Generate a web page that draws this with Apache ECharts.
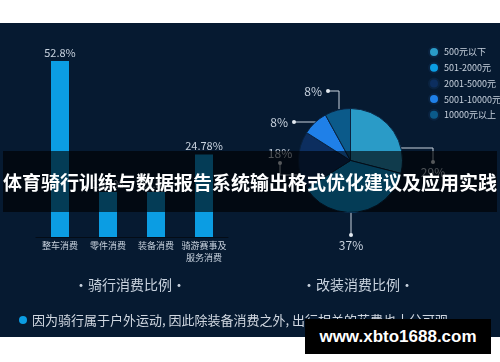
<!DOCTYPE html>
<html><head><meta charset="utf-8">
<script src="https://cdn.jsdelivr.net/npm/echarts@6/dist/echarts.min.js"></script>
<style>
html,body{margin:0;padding:0;background:#fff;width:500px;height:362px;overflow:hidden;}
#panel{position:absolute;left:0;top:23px;width:500px;height:314px;background:#061a31;}
#chart{position:absolute;left:0;top:0;width:500px;height:362px;}
#banner{position:absolute;left:3px;top:151px;width:494px;height:61px;background:rgba(0,0,0,0.62);}
#bannerText{position:absolute;left:0;top:151px;width:500px;height:61px;line-height:61px;text-align:center;color:#fff;font-weight:bold;font-size:19px;font-family:"Noto Sans CJK SC";white-space:nowrap;}
#wm{position:absolute;left:305px;top:319px;width:186px;height:35px;background:#000;color:#fff;font-weight:bold;font-size:17px;font-family:"Liberation Sans";text-align:center;line-height:35px;white-space:nowrap;}
</style></head>
<body>
<div id="panel"></div>
<div id="chart"></div>
<div id="banner"></div>
<div id="bannerText">体育骑行训练与数据报告系统输出格式优化建议及应用实践</div>
<div id="wm">www.xbto1688.com</div>
<script>
// ---- data ----
const barCategories = ['整车消费', '零件消费', '装备消费', '骑游赛事及服务消费'];
const barValues = [52.8, 13.5, 13.5, 24.78];
const pieNames = ['500元以下', '501-2000元', '2001-5000元', '5001-10000元', '10000元以上'];
const pieValues = [29, 37, 18, 8, 8];
const barTitle = '·骑行消费比例·';
const pieTitle = '·改装消费比例·';
const noteText = '因为骑行属于户外运动, 因此除装备消费之外, 出行相关的花费也十分可观。';

// ---- styling / layout ----
const textColor = '#c8d2de';
const pieColors = ['#2a9bc7', '#0b9de3', '#0c2e5f', '#1f80e8', '#0b5a8a'];
const cx = 350.5, cy = 160.5, R = 52;
// label routes relative to pie center
const routes = [
  {pts: [[46.5, -12.5], [82.5, -12.5], [82.5, 1.5]], x: 82.5, y: -0.5, align: 'center', va: 'top', kind: 'below'},
  {pts: [[0.5, 51.5], [0.5, 74.5]], x: 0.5, y: 72.5, align: 'center', va: 'top', kind: 'below'},
  {pts: [[-51.5, 14.5], [-70.5, 14.5], [-70.5, 2.5]], x: -70.5, y: 4.5, align: 'center', va: 'bottom', kind: 'above'},
  {pts: [[-27.5, -38.5], [-56.5, -38.5]], x: -54.5, y: -38.5, align: 'right', va: 'middle', kind: 'left'},
  {pts: [[-11.5, -51.5], [-11.5, -69.5], [-22.5, -69.5]], x: -20.5, y: -69.5, align: 'right', va: 'middle', kind: 'left'}
];

const chart = echarts.init(document.getElementById('chart'), null, {renderer: 'canvas'});
chart.setOption({
  backgroundColor: 'transparent',
  animation: false,
  textStyle: {fontFamily: '"Noto Sans CJK SC", "Noto Sans", sans-serif'},
  title: [
    {text: barTitle, left: 125, top: 273, textAlign: 'center',
     textStyle: {color: textColor, fontSize: 14, fontWeight: 'normal'}},
    {text: pieTitle, left: 353, top: 273, textAlign: 'center',
     textStyle: {color: textColor, fontSize: 14, fontWeight: 'normal'}},
    {text: '{dot|}{gap|}{t|' + noteText + '}', left: 14, top: 306,
     textStyle: {fontWeight: 'normal', rich: {
       dot: {width: 8, height: 8, borderRadius: 4, backgroundColor: '#0b9de3'},
       gap: {width: 5},
       t: {color: '#d0d7e0', fontSize: 13, fontWeight: 'normal'}
     }}}
  ],
  legend: {
    orient: 'vertical', left: 423, top: 41,
    data: pieNames, icon: 'circle', itemWidth: 10, itemHeight: 10, itemGap: 3.7,
    textStyle: {color: textColor, fontSize: 9, lineHeight: 10}
  },
  grid: {left: 36, right: 272, top: 37, bottom: 125},
  xAxis: {
    type: 'category', data: barCategories,
    axisLine: {lineStyle: {color: '#040c16', width: 1}},
    axisTick: {show: false},
    axisLabel: {color: textColor, fontSize: 9, lineHeight: 12, margin: 3, interval: 0,
      formatter: v => v.length > 5 ? v.slice(0, 5) + '\n' + v.slice(5) : v}
  },
  yAxis: {type: 'value', min: 0, max: 60, show: false},
  series: [
    {
      type: 'bar', data: barValues, barWidth: 18,
      itemStyle: {color: '#0b9de3'},
      label: {show: true, position: 'top', distance: 3, color: textColor, fontSize: 11,
        formatter: p => p.value + '%'}
    },
    {
      type: 'pie', center: [cx, cy], radius: R, startAngle: 90, clockwise: true,
      data: pieNames.map((n, i) => ({name: n, value: pieValues[i], itemStyle: {color: pieColors[i]}})),
      itemStyle: {borderColor: '#0a2340', borderWidth: 1},
      label: {
        show: true,
        formatter: p => {
          const k = routes[p.dataIndex].kind;
          const t = '{t|' + p.value + '%}';
          if (k === 'below') return '{d|}\n' + t;
          if (k === 'above') return t + '\n{d|}';
          return t + '{s|}{d|}';
        },
        rich: {
          d: {width: 4, height: 4, lineHeight: 4, borderRadius: 2, backgroundColor: '#e3e9f0'},
          s: {width: 4},
          t: {color: textColor, fontSize: 12, lineHeight: 16}
        }
      },
      labelLine: {show: true, lineStyle: {color: textColor, width: 1}},
      labelLayout: p => {
        const r = routes[p.dataIndex];
        return {
          x: cx + r.x, y: cy + r.y, align: r.align, verticalAlign: r.va,
          labelLinePoints: r.pts.map(q => [cx + q[0], cy + q[1]])
        };
      }
    }
  ]
});
</script>
</body></html>
